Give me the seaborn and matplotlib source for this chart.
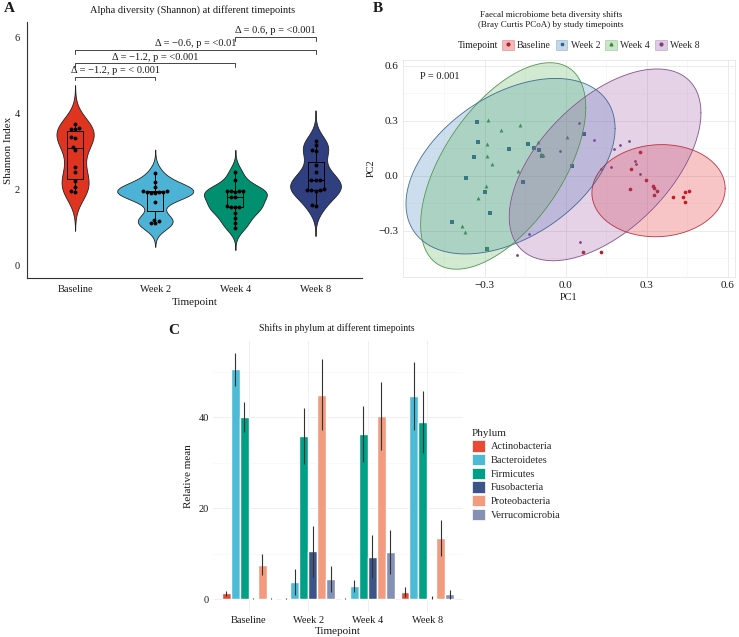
import numpy as np
import pandas as pd
import matplotlib.pyplot as plt
import seaborn as sns
from matplotlib.patches import Patch
from matplotlib.lines import Line2D

sns.set_style("white")
plt.rcParams['font.family'] = ['Liberation Serif', 'DejaVu Serif']

timepoints = ['Baseline', 'Week 2', 'Week 4', 'Week 8']

# ---- panel A: Shannon index per sample
shannon_baseline = [1.94, 1.96, 2.07, 2.24, 2.46, 2.61, 3.05, 3.14, 3.36, 3.38, 3.6, 3.61, 3.62, 3.74]
shannon_week2 = [1.12, 1.14, 1.18, 1.22, 1.67, 1.92, 1.93, 1.94, 1.95, 1.95, 1.96, 1.97, 2.07, 2.22, 2.44]
shannon_week4 = [0.99, 1.12, 1.26, 1.39, 1.55, 1.56, 1.56, 1.57, 1.8, 1.82, 1.95, 1.96, 1.97, 1.97, 1.98, 2.26, 2.48]
shannon_week8 = [1.58, 1.6, 1.98, 1.99, 2.0, 2.01, 2.02, 2.25, 2.26, 2.27, 2.47, 2.65, 3.02, 3.05, 3.17, 3.3]

bracket_pairs = [(0, 1), (0, 2), (0, 3), (2, 3)]
bracket_y = [4.98, 5.33, 5.68, 6.02]
bracket_labels = ['Δ = −1.2, p = < 0.001', 'Δ = −1.2, p = <0.001',
                  'Δ = −0.6, p = <0.01', 'Δ = 0.6, p = <0.001']

# ---- panel B: PCoA coordinates
base_pc1 = [0.241, 0.239, 0.299, 0.325, 0.328, 0.338, 0.328, 0.399, 0.433, 0.44, 0.455, 0.44, 0.065, 0.13, 0.275]
base_pc2 = [0.038, -0.073, -0.023, -0.056, -0.067, -0.085, -0.105, -0.118, -0.116, -0.091, -0.082, -0.142, -0.415, -0.415, 0.129]
wk2_pc1 = [-0.33, -0.324, -0.34, -0.369, -0.301, -0.28, -0.421, -0.29, -0.21, -0.14, -0.116, -0.098, -0.089, -0.16, 0.067, 0.022]
wk2_pc2 = [0.295, 0.186, 0.104, -0.013, -0.089, -0.205, -0.254, -0.40, 0.147, 0.171, 0.149, 0.14, 0.107, -0.033, 0.229, 0.055]
wk4_pc1 = [-0.287, -0.241, -0.17, -0.29, -0.29, -0.274, -0.176, -0.295, -0.326, -0.385, -0.375, -0.29, -0.104, -0.091, -0.085, 0.004]
wk4_pc2 = [0.304, 0.251, 0.278, 0.175, 0.107, 0.062, 0.026, -0.055, -0.12, -0.273, -0.307, -0.394, 0.182, 0.117, 0.11, 0.213]
wk8_pc1 = [-0.021, -0.136, -0.181, 0.106, 0.13, 0.168, 0.18, 0.2, 0.234, 0.257, 0.259, 0.275, 0.053, 0.05]
wk8_pc2 = [0.135, -0.318, -0.434, 0.193, 0.036, 0.049, 0.144, 0.166, 0.189, 0.08, 0.062, 0.008, -0.362, 0.288]

# ---- panel C: phylum relative means (+/- error)
phyla = ['Actinobacteria', 'Bacteroidetes', 'Firmicutes', 'Fusobacteria', 'Proteobacteria', 'Verrucomicrobia']
mean_baseline = [1.3, 50.5, 40.0, 0.1, 7.6, 0.15]
mean_week2 = [0.1, 3.8, 35.8, 10.5, 44.9, 4.5]
mean_week4 = [0.2, 2.9, 36.3, 9.3, 40.2, 10.4]
mean_week8 = [1.6, 44.6, 38.9, 0.35, 13.4, 1.1]
err_baseline = [0.5, 3.6, 3.3, 0.1, 2.3, 0.1]
err_week2 = [0.1, 2.9, 6.1, 5.6, 7.8, 2.8]
err_week4 = [0.1, 1.4, 6.1, 4.7, 7.5, 4.8]
err_week8 = [1.0, 7.4, 6.8, 0.3, 4.0, 1.0]

npg = ['#E64B35', '#4DBBD5', '#00A087', '#3C5488', '#F39B7F', '#8491B4']
violin_cols = ['#DF3520', '#4DB3D6', '#00906F', '#2F3F80']
set1 = ['#E41A1C', '#377EB8', '#4DAF4A', '#984EA3']
set1_dark = ['#B3202A', '#2F5F8C', '#3F8A3C', '#76407F']
markers = ['o', 's', '^', 'o']
msizes = [7, 7, 8, 4]

W, H = 739, 637
fig = plt.figure(figsize=(W / 100, H / 100), dpi=100)


def box(l, t, r, b):
    return [l / W, 1 - b / H, (r - l) / W, (b - t) / H]


txt = '#1a1a1a'

# ================= A
axA = fig.add_axes(box(27, 22, 362, 278))
dfA = pd.DataFrame({
    'Timepoint': sum([[tp] * len(v) for tp, v in zip(timepoints, [shannon_baseline, shannon_week2, shannon_week4, shannon_week8])], []),
    'Shannon': shannon_baseline + shannon_week2 + shannon_week4 + shannon_week8})
sns.violinplot(data=dfA, x='Timepoint', y='Shannon', hue='Timepoint', palette=violin_cols,
               inner=None, cut=3, bw_adjust=0.85, density_norm='area', common_norm=True,
               width=0.95, linewidth=0.6, linecolor='#222222', saturation=1, legend=False, ax=axA)
sns.boxplot(data=dfA, x='Timepoint', y='Shannon', width=0.2, fill=False, color='black',
            linewidth=0.7, showfliers=False, showcaps=False, ax=axA)
sns.swarmplot(data=dfA, x='Timepoint', y='Shannon', color='black', size=2.8, ax=axA)
for (i, j), y, lab in zip(bracket_pairs, bracket_y, bracket_labels):
    axA.plot([i, i, j, j], [y - 0.1, y, y, y - 0.1], color='#444444', lw=0.7)
    axA.text((i + j) / 2, y + 0.05, lab, ha='center', va='bottom', fontsize=7.5, color=txt)
axA.set_xlim(-0.6, 3.58)
axA.set_ylim(-0.32, 6.42)
axA.set_yticks([0, 2, 4, 6])
sns.despine(ax=axA)
for s in ['left', 'bottom']:
    axA.spines[s].set_color('#333333')
    axA.spines[s].set_linewidth(0.8)
axA.tick_params(length=3, width=0.7, color='#333333', labelsize=7.5, labelcolor=txt, pad=2)
axA.set_xlabel('Timepoint', fontsize=8, color=txt, labelpad=3)
axA.set_ylabel('Shannon Index', fontsize=8, color=txt, labelpad=1)
fig.text(193 / W, 1 - 10 / H, 'Alpha diversity (Shannon) at different timepoints',
         ha='center', va='center', fontsize=7.5, color=txt)
fig.text(4 / W, 1 - 8 / H, 'A', fontsize=11, fontweight='bold', va='center', color=txt)


# ================= B
def trob_ellipse(x, y, level=0.97, nu=5, maxit=25, tol=0.01):
    # t-distribution ellipse like ggplot2 stat_ellipse (MASS::cov.trob)
    xy = np.column_stack([x, y])
    n, p = xy.shape
    loc = xy.mean(axis=0)
    w = np.ones(n)
    for _ in range(maxit):
        w0 = w
        X = xy - loc
        S = (X * w[:, None]).T @ X / w.sum()
        Q = np.einsum('ij,jk,ik->i', X, np.linalg.inv(S), X)
        w = (nu + p) / (nu + Q)
        loc = (w[:, None] * xy).sum(axis=0) / w.sum()
        if np.all(np.abs(w - w0) < tol):
            break
    cov = (X * w[:, None]).T @ X / n
    d = n - 1
    fq = (d / 2) * ((1 - level) ** (-2 / d) - 1)
    radius = np.sqrt(2 * fq)
    t = np.linspace(0, 2 * np.pi, 200)
    circle = np.column_stack([np.cos(t), np.sin(t)])
    R = np.linalg.cholesky(cov).T
    return loc + radius * circle @ R


axB = fig.add_axes(box(403, 60, 735, 277))
groups = [(base_pc1, base_pc2), (wk2_pc1, wk2_pc2), (wk4_pc1, wk4_pc2), (wk8_pc1, wk8_pc2)]
dfB = pd.DataFrame({
    'Timepoint': sum([[tp] * len(g[0]) for tp, g in zip(timepoints, groups)], []),
    'PC1': sum([list(g[0]) for g in groups], []),
    'PC2': sum([list(g[1]) for g in groups], [])})
for k, tp in enumerate(timepoints):
    sub = dfB[dfB.Timepoint == tp]
    sns.scatterplot(data=sub, x='PC1', y='PC2', color=set1_dark[k], marker=markers[k],
                    s=msizes[k], linewidth=0, legend=False, ax=axB, zorder=2)
for k, tp in enumerate(timepoints):
    sub = dfB[dfB.Timepoint == tp]
    ell = trob_ellipse(sub.PC1.values, sub.PC2.values)
    axB.fill(ell[:, 0], ell[:, 1], facecolor=set1[k], alpha=0.25, zorder=3)
    axB.plot(ell[:, 0], ell[:, 1], color=set1_dark[k], lw=0.65, alpha=0.85, zorder=4)
axB.set_xlim(-0.603, 0.627)
axB.set_ylim(-0.553, 0.631)
axB.set_xticks([-0.3, 0.0, 0.3, 0.6])
axB.set_yticks([-0.3, 0.0, 0.3, 0.6])
axB.set_xticks([-0.45, -0.15, 0.15, 0.45], minor=True)
axB.set_yticks([-0.45, -0.15, 0.15, 0.45], minor=True)
axB.grid(True, which='major', color='#e8e8e8', lw=0.6, zorder=0)
axB.grid(True, which='minor', color='#f3f3f3', lw=0.4, zorder=0)
axB.set_axisbelow(True)
for s in axB.spines.values():
    s.set_color('#e6e6e6')
    s.set_linewidth(0.6)
axB.tick_params(which='both', length=0, labelsize=8, labelcolor=txt, pad=3)
axB.set_xlabel('PC1', fontsize=7.5, color=txt, labelpad=2)
axB.set_ylabel('PC2', fontsize=7.5, color=txt, labelpad=2)
axB.text(-0.54, 0.54, 'P = 0.001', ha='left', va='center', fontsize=7.5, color=txt)
fig.text(551 / W, 1 - 20 / H, 'Faecal microbiome beta diversity shifts\n(Bray Curtis PCoA) by study timepoints',
         ha='center', va='center', fontsize=6.5, color=txt, linespacing=1.25)
fig.text(373 / W, 1 - 8 / H, 'B', fontsize=11, fontweight='bold', va='center', color=txt)
fig.text(458 / W, 1 - 45 / H, 'Timepoint', ha='left', va='center', fontsize=7, color=txt)
handlesB = [(Patch(facecolor=set1[k], alpha=0.3, edgecolor=set1_dark[k], lw=0.6),
             Line2D([], [], ls='', marker=markers[k], ms=2, color=set1_dark[k]))
            for k in range(4)]
fig.legend(handlesB, timepoints, loc='center left', bbox_to_anchor=(502 / W, 1 - 45 / H),
           ncol=4, frameon=False, fontsize=7, handlelength=1.2, handleheight=1.2,
           handletextpad=0.35, columnspacing=0.5, borderpad=0, borderaxespad=0)

# ================= C
axC = fig.add_axes(box(213, 341, 463, 612))
means = [mean_baseline, mean_week2, mean_week4, mean_week8]
errs = [err_baseline, err_week2, err_week4, err_week8]
dfC = pd.DataFrame({
    'Timepoint': [tp for tp in timepoints for _ in phyla],
    'Phylum': phyla * 4,
    'mean': sum(means, []),
    'err': sum(errs, [])})
sns.barplot(data=dfC, x='Timepoint', y='mean', hue='Phylum', hue_order=phyla, palette=npg,
            width=0.9, errorbar=None, saturation=1, ax=axC)
for cont, ph in zip(axC.containers, phyla):
    sub = dfC[dfC.Phylum == ph].set_index('Timepoint').loc[timepoints]
    xs = [b.get_x() + b.get_width() / 2 for b in cont]
    axC.errorbar(xs, sub['mean'].values, yerr=sub['err'].values, fmt='none',
                 ecolor='#333333', elinewidth=0.8, capsize=0, zorder=5)
axC.set_xlim(-0.6, 3.6)
axC.set_ylim(-2.8, 56.7)
axC.set_yticks([0, 20, 40])
axC.set_yticks([10, 30, 50], minor=True)
axC.grid(True, which='major', color='#ececec', lw=0.6)
axC.grid(True, which='minor', axis='y', color='#f5f5f5', lw=0.4)
axC.set_axisbelow(True)
sns.despine(ax=axC, left=True, bottom=True)
axC.tick_params(which='both', length=0, labelsize=7.5, labelcolor=txt, pad=3)
axC.set_xlabel('Timepoint', fontsize=8, color=txt, labelpad=1)
axC.set_ylabel('Relative mean', fontsize=8, color=txt, labelpad=4)
axC.legend_.remove()
handlesC = [Patch(facecolor=c, edgecolor='white', lw=0.5) for c in npg]
legC = fig.legend(handlesC, phyla, title='Phylum', loc='upper left',
                  bbox_to_anchor=(472 / W, 1 - 429 / H), frameon=False, fontsize=7.5,
                  title_fontsize=8, handlelength=1.25, handleheight=1.3, labelspacing=0.22,
                  handletextpad=0.55, borderpad=0, borderaxespad=0, alignment='left')
fig.text(337 / W, 1 - 328 / H, 'Shifts in phylum at different timepoints',
         ha='center', va='center', fontsize=7, color=txt)
fig.text(168 / W, 1 - 331 / H, 'C', fontsize=11, fontweight='bold', va='center', color=txt)

fig.savefig('out.png', dpi=100)
